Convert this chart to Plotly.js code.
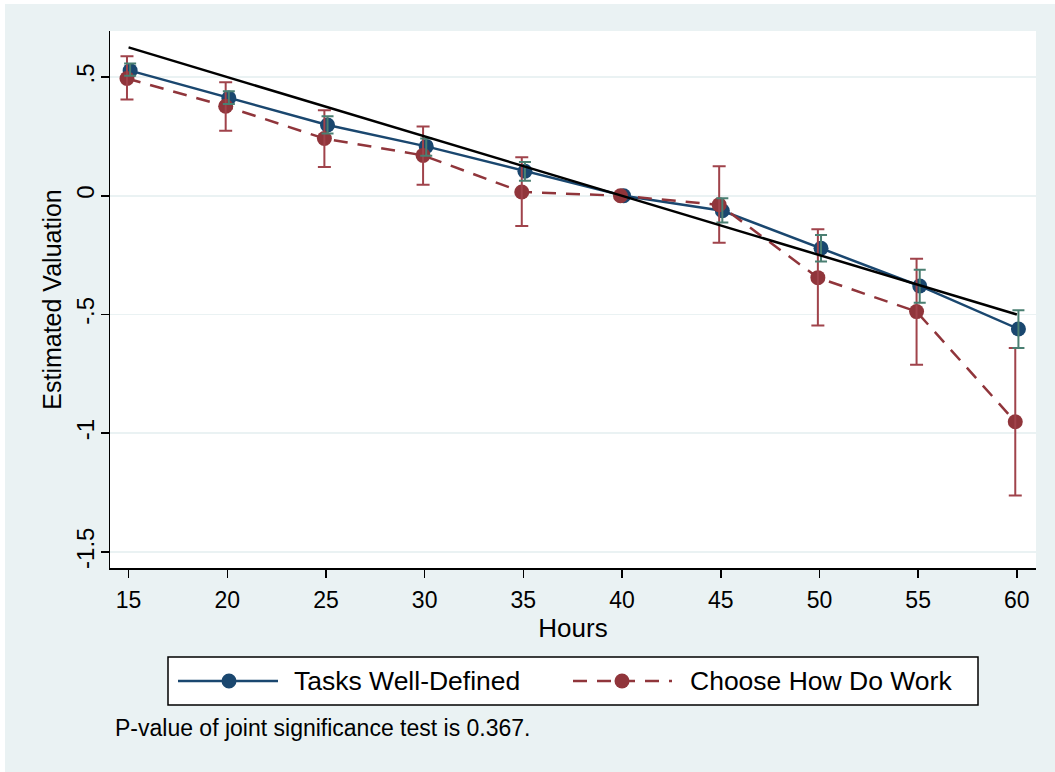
<!DOCTYPE html>
<html>
<head>
<meta charset="utf-8">
<script src="https://cdn.plot.ly/plotly-3.0.1.min.js"></script>
<style>
  html, body { margin: 0; padding: 0; background: #ffffff; }
  #chart { position: absolute; left: 5px; top: 4px; width: 1050px; height: 768px; }
</style>
</head>
<body>
<div id="chart"></div>
<script>
// Weekly hours offered and estimated valuation by job attribute group
const hours = [15, 20, 25, 30, 35, 40, 45, 50, 55, 60];

const tasksEst = [0.527, 0.412, 0.298, 0.208, 0.103, 0, -0.063, -0.221, -0.380, -0.561];
const tasksLo  = [0.506, 0.387, 0.262, 0.169, 0.063, null, -0.113, -0.277, -0.451, -0.641];
const tasksHi  = [0.557, 0.440, 0.335, 0.241, 0.142, null, -0.010, -0.165, -0.312, -0.482];

const chooseEst = [0.494, 0.377, 0.241, 0.170, 0.016, 0, -0.038, -0.345, -0.488, -0.952];
const chooseLo  = [0.405, 0.274, 0.121, 0.046, -0.127, null, -0.198, -0.547, -0.712, -1.263];
const chooseHi  = [0.588, 0.478, 0.360, 0.292, 0.162, null, 0.124, -0.141, -0.265, -0.641];

// Linear benchmark through the 40-hour reference
const fitHours = [15, 60];
const fitValue = [0.625, -0.5];

const xTicks = [15, 20, 25, 30, 35, 40, 45, 50, 55, 60];
const yTickVals = [0.5, 0, -0.5, -1, -1.5];
const yTickText = ['.5', '0', '-.5', '-1', '-1.5'];

const seriesNames = ['Tasks Well-Defined', 'Choose How Do Work'];
const footnote = 'P-value of joint significance test is 0.367.';

// Styling
const NAVY = '#1a476f';
const MAROON = '#90353b';
const NAVY_CI = '#4a7f72';
const MAROON_CI = '#a0434b';
const BG = '#eaf2f3';
const FONT = 'Liberation Sans, Arial, sans-serif';
const SHIFT = 0.08;   // small horizontal dodge between the two series

function shifted(arr, d) { return arr.map(v => v + d); }

// Error bars only where a confidence interval exists
function ciTrace(x, est, lo, hi, color, halfWidth) {
  const xs = [], ys = [], up = [], dn = [];
  for (let i = 0; i < x.length; i++) {
    if (lo[i] === null || hi[i] === null) continue;
    xs.push(x[i]); ys.push(est[i]);
    up.push(hi[i] - est[i]); dn.push(est[i] - lo[i]);
  }
  return {
    x: xs, y: ys, type: 'scatter', mode: 'markers',
    marker: { size: 1, opacity: 0 },
    error_y: { type: 'data', symmetric: false, array: up, arrayminus: dn,
               color: color, thickness: 2, width: halfWidth },
    hoverinfo: 'skip', showlegend: false
  };
}

const xTasks = shifted(hours, SHIFT);
const xChoose = shifted(hours, -SHIFT);

const traces = [
  {
    x: xTasks, y: tasksEst, type: 'scatter', mode: 'lines+markers',
    name: seriesNames[0],
    line: { color: NAVY, width: 2.5 },
    marker: { color: NAVY, size: 15 },
    showlegend: false
  },
  {
    x: xChoose, y: chooseEst, type: 'scatter', mode: 'lines+markers',
    name: seriesNames[1],
    line: { color: MAROON, width: 2.5, dash: '14px,10px' },
    marker: { color: MAROON, size: 15 },
    showlegend: false
  },
  ciTrace(xChoose, chooseEst, chooseLo, chooseHi, MAROON_CI, 6.5),
  ciTrace(xTasks, tasksEst, tasksLo, tasksHi, NAVY_CI, 6),
  {
    x: fitHours, y: fitValue, type: 'scatter', mode: 'lines',
    line: { color: '#000000', width: 2.5 },
    hoverinfo: 'skip', showlegend: false
  }
];

// Plot area geometry (pixels within the figure div)
const M = { l: 105, r: 19, t: 27, b: 204 };
const W = 1050 - M.l - M.r;
const H = 768 - M.t - M.b;
// page pixel -> paper fraction (div sits at 5,4 on the page)
const px = p => (p - 5 - M.l) / W;
const py = p => (M.t + H - (p - 4)) / H;

const legendY = py(681);
const shapes = [
  { type: 'rect', xref: 'paper', yref: 'paper',
    x0: px(168), x1: px(978), y0: py(705), y1: py(657),
    line: { color: '#000000', width: 1.5 }, fillcolor: '#ffffff', layer: 'below' },
  { type: 'line', xref: 'paper', yref: 'paper',
    x0: px(178), x1: px(278), y0: legendY, y1: legendY,
    line: { color: NAVY, width: 2.5 } },
  { type: 'line', xref: 'paper', yref: 'paper',
    x0: px(573), x1: px(672), y0: legendY, y1: legendY,
    line: { color: MAROON, width: 2.5, dash: '14px,10px' } },
  { type: 'circle', xref: 'paper', yref: 'paper', xsizemode: 'pixel', ysizemode: 'pixel',
    xanchor: px(229), yanchor: legendY, x0: -7.5, x1: 7.5, y0: -7.5, y1: 7.5,
    fillcolor: NAVY, line: { width: 0 } },
  { type: 'circle', xref: 'paper', yref: 'paper', xsizemode: 'pixel', ysizemode: 'pixel',
    xanchor: px(622), yanchor: legendY, x0: -7.5, x1: 7.5, y0: -7.5, y1: 7.5,
    fillcolor: MAROON, line: { width: 0 } }
];

const annotations = [
  { text: seriesNames[0], xref: 'paper', yref: 'paper', x: px(292), y: legendY,
    xanchor: 'left', yanchor: 'middle', showarrow: false,
    font: { family: FONT, size: 26.5, color: '#000000' } },
  { text: seriesNames[1], xref: 'paper', yref: 'paper', x: px(688), y: legendY,
    xanchor: 'left', yanchor: 'middle', showarrow: false,
    font: { family: FONT, size: 26.5, color: '#000000' } },
  { text: footnote, xref: 'paper', yref: 'paper', x: px(113), y: py(728),
    xanchor: 'left', yanchor: 'middle', showarrow: false,
    font: { family: FONT, size: 23, color: '#000000' } }
];

const layout = {
  width: 1050, height: 768,
  margin: M,
  paper_bgcolor: BG,
  plot_bgcolor: '#ffffff',
  font: { family: FONT, color: '#000000' },
  showlegend: false,
  xaxis: {
    range: [14.06, 60.97],
    tickvals: xTicks,
    ticks: 'outside', ticklen: 8, tickwidth: 1.5, tickcolor: '#000000',
    showline: true, linecolor: '#000000', linewidth: 1.5,
    showgrid: false, zeroline: false,
    ticklabelstandoff: 3,
    tickfont: { family: FONT, size: 23, color: '#000000' },
    title: { text: 'Hours', font: { family: FONT, size: 26, color: '#000000' }, standoff: 6 }
  },
  yaxis: {
    range: [-1.568, 0.694],
    tickvals: yTickVals, ticktext: yTickText, tickangle: -90,
    ticks: 'outside', ticklen: 8, tickwidth: 1.5, tickcolor: '#000000',
    showline: true, linecolor: '#000000', linewidth: 1.5,
    showgrid: true, gridcolor: BG, gridwidth: 1.5, zeroline: false,
    ticklabelstandoff: -3,
    tickfont: { family: FONT, size: 24, color: '#000000' },
    title: { text: 'Estimated Valuation', font: { family: FONT, size: 25, color: '#000000' }, standoff: 3 }
  },
  shapes: shapes,
  annotations: annotations
};

Plotly.newPlot('chart', traces, layout, { displayModeBar: false, staticPlot: true });
</script>
</body>
</html>
